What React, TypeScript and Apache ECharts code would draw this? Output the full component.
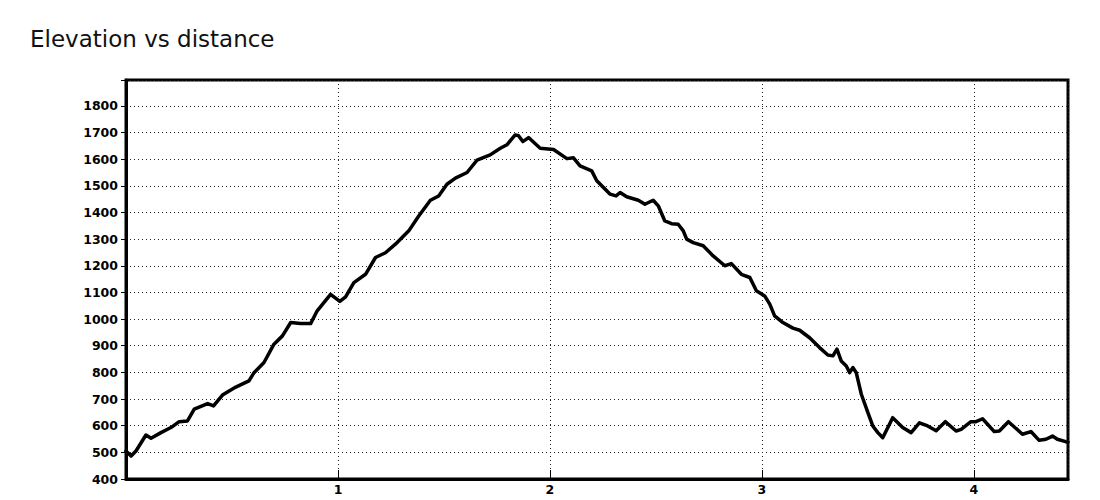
import React, { useEffect, useRef } from "react";
import * as echarts from "echarts";

const distance: number[] = [
  0, 0.024, 0.047, 0.094, 0.118, 0.165, 0.212, 0.251, 0.29, 0.322, 0.385, 0.413, 0.455, 0.518, 0.58, 0.604,
  0.651, 0.698, 0.738, 0.777, 0.824, 0.871, 0.902, 0.965, 1.009, 1.036, 1.075, 1.13, 1.177, 1.224, 1.271,
  1.334, 1.381, 1.436, 1.475, 1.514, 1.554, 1.609, 1.656, 1.718, 1.766, 1.797, 1.836, 1.852, 1.872, 1.899,
  1.954, 2.017, 2.08, 2.111, 2.142, 2.197, 2.221, 2.283, 2.312, 2.331, 2.362, 2.417, 2.448, 2.487, 2.511,
  2.542, 2.574, 2.605, 2.629, 2.645, 2.676, 2.723, 2.77, 2.825, 2.856, 2.903, 2.943, 2.974, 3.013, 3.037,
  3.06, 3.099, 3.146, 3.178, 3.225, 3.272, 3.311, 3.335, 3.354, 3.374, 3.398, 3.414, 3.429, 3.445, 3.469,
  3.5, 3.523, 3.547, 3.57, 3.617, 3.664, 3.704, 3.743, 3.782, 3.822, 3.865, 3.916, 3.94, 3.986, 4.01,
  4.041, 4.096, 4.12, 4.163, 4.229, 4.269, 4.308, 4.34, 4.371, 4.394, 4.433, 4.444,
];

const elevation: number[] = [
  505, 486, 505, 565, 553, 574, 593, 615, 618, 662, 683, 674, 715, 745, 768, 799,
  837, 906, 937, 987, 983, 983, 1031, 1093, 1066, 1083, 1137, 1168, 1231, 1249, 1281,
  1331, 1387, 1446, 1462, 1506, 1529, 1550, 1596, 1616, 1641, 1654, 1691, 1688, 1666, 1681,
  1641, 1636, 1602, 1605, 1575, 1556, 1519, 1469, 1462, 1475, 1459, 1446, 1431, 1446, 1425,
  1368, 1358, 1356, 1331, 1300, 1287, 1275, 1237, 1200, 1208, 1168, 1156, 1106, 1087, 1056,
  1012, 987, 966, 958, 930, 893, 865, 862, 887, 843, 824, 799, 818, 799, 718,
  649, 599, 574, 555, 630, 593, 574, 611, 599, 581, 615, 580, 586, 615, 615,
  626, 578, 580, 615, 568, 578, 545, 549, 561, 549, 540, 538,
];

const titleText = "Elevation vs distance";
const xMin = 0;
const xMax = 4.444;
const yMin = 400;
const yMax = 1897;

export default function App() {
  const ref = useRef<HTMLDivElement>(null);
  useEffect(() => {
    document.body.style.margin = "0";
    if (!ref.current) return;
    const chart = echarts.init(ref.current, null, { renderer: "svg" });
    const data = distance.map((d, i) => [d, elevation[i]]);
    const dotted = { color: "#222", width: 1, type: [1, 3] as any };
    chart.setOption({
      animation: false,
      backgroundColor: "#fff",
      title: {
        text: titleText,
        left: 25,
        top: 22,
        textStyle: { fontFamily: "DejaVu Sans", fontSize: 23, fontWeight: "normal", color: "#111" },
      },
      grid: {
        left: 126,
        right: 32,
        top: 80,
        bottom: 21,
        show: true,
        borderColor: "#000",
        borderWidth: 3,
        backgroundColor: "#fff",
      },
      xAxis: {
        type: "value",
        min: xMin,
        max: xMax,
        interval: 1,
        axisLine: { show: true, lineStyle: { color: "#000", width: 3 } },
        axisTick: { show: true, inside: true, length: 9, lineStyle: { color: "#000", width: 1 } },
        splitLine: { show: true, lineStyle: dotted },
        axisLabel: {
          margin: 4,
          color: "#000",
          fontFamily: "DejaVu Sans",
          fontWeight: "bold",
          fontSize: 12.5,
          formatter: (v: number) => (v > 0 && Math.abs(v - Math.round(v)) < 1e-6 ? String(Math.round(v)) : ""),
        },
      },
      yAxis: {
        type: "value",
        min: yMin,
        max: yMax,
        interval: 100,
        axisLine: { show: true, lineStyle: { color: "#000", width: 3 } },
        axisTick: { show: true, inside: false, length: 5, lineStyle: { color: "#000", width: 1 } },
        splitLine: { show: true, lineStyle: dotted },
        axisLabel: {
          margin: 8,
          color: "#000",
          fontFamily: "DejaVu Sans",
          fontWeight: "bold",
          fontSize: 12.5,
          formatter: (v: number) => (v % 100 === 0 ? String(v) : ""),
        },
      },
      series: [
        {
          type: "line",
          data,
          showSymbol: false,
          symbol: "none",
          lineStyle: { color: "#000", width: 3.5, join: "round", cap: "round" },
          z: 5,
        },
      ],
    });
    return () => chart.dispose();
  }, []);
  return <div ref={ref} style={{ width: 1100, height: 500 }} />;
}
